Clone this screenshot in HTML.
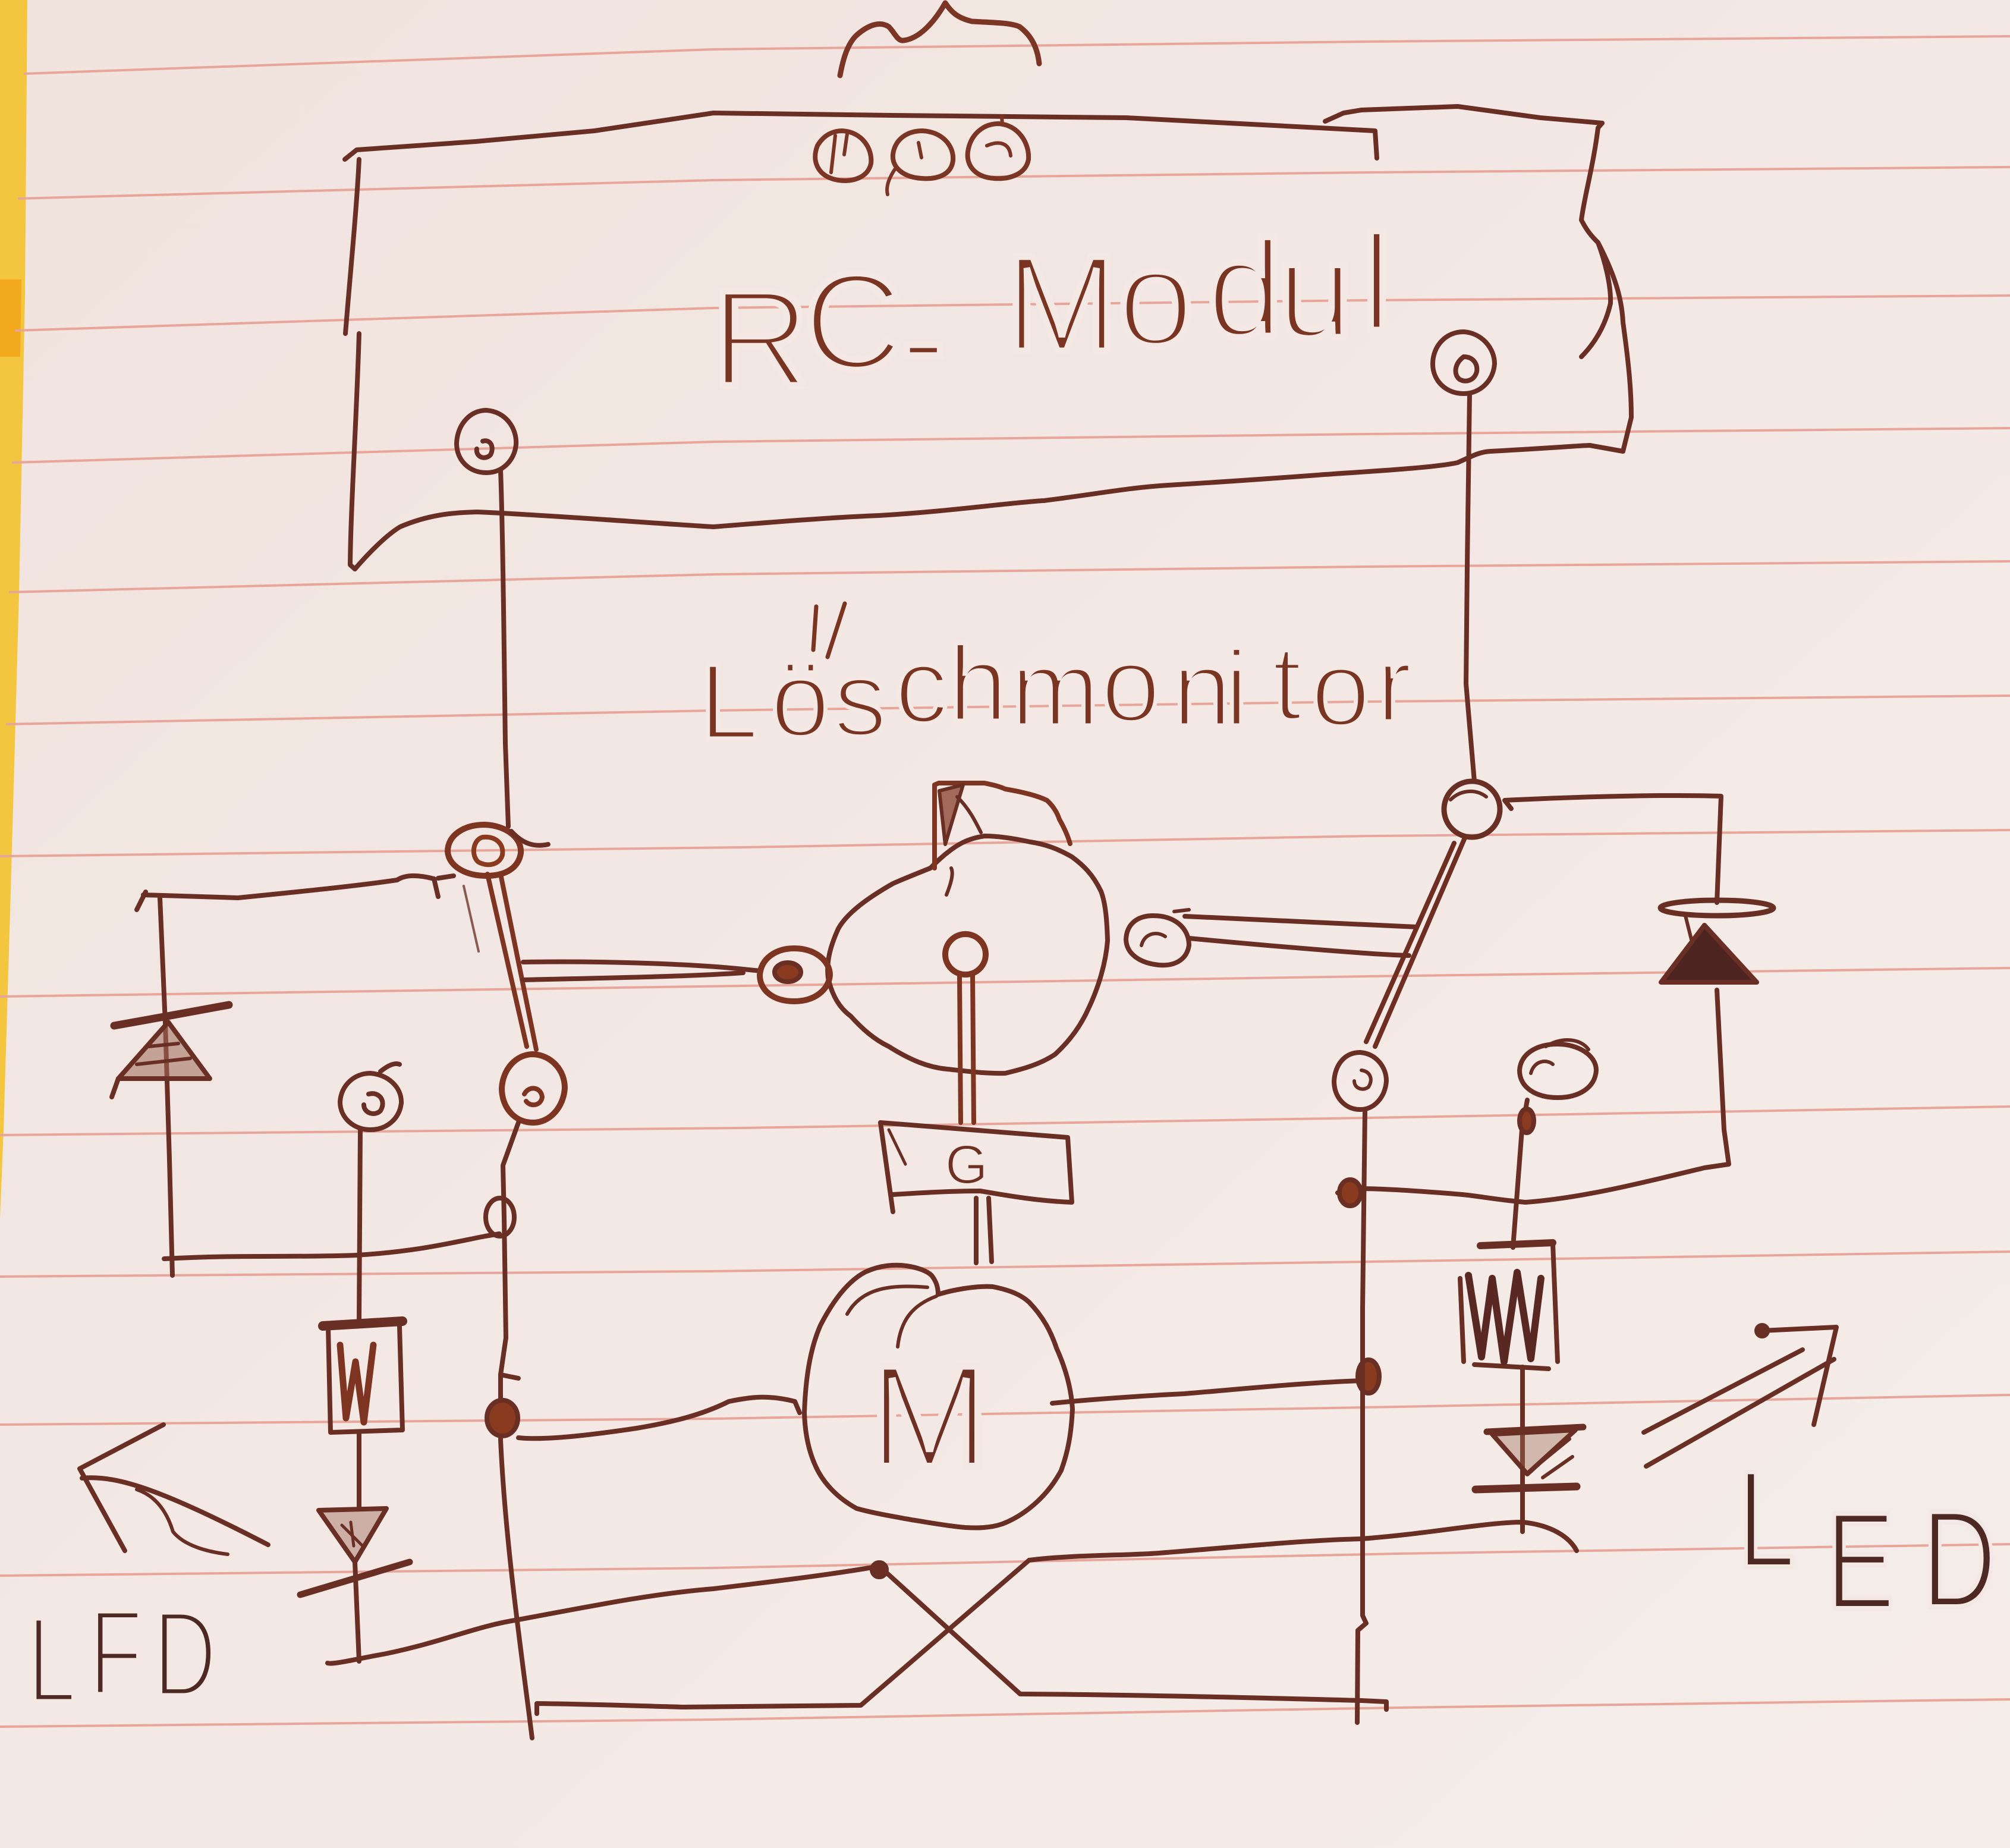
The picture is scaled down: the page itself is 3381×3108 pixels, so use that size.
<!DOCTYPE html>
<html>
<head>
<meta charset="utf-8">
<style>
html,body{margin:0;padding:0;background:#f3e8e4;}
svg{display:block;}
</style>
</head>
<body>
<svg xmlns="http://www.w3.org/2000/svg" width="3381" height="3108" viewBox="0 0 3381 3108">
<defs>
<linearGradient id="paper" x1="0" y1="0" x2="1" y2="1">
<stop offset="0" stop-color="#f1e3de"/>
<stop offset="0.5" stop-color="#f3e8e4"/>
<stop offset="1" stop-color="#f5ede9"/>
</linearGradient>
</defs>
<rect x="0" y="0" width="3381" height="3108" fill="url(#paper)"/>
<!-- yellow strip -->
<polygon points="0,0 46,0 42,500 32,1000 18,1500 6,1900 0,2050" fill="#f4c640"/>
<polygon points="0,470 36,470 34,600 0,600" fill="#f2a91e"/>

<!-- ruled lines -->
<g fill="none" stroke="#e8a69b" stroke-width="4">
<polyline points="40,124 1200,83 2300,70 3381,61"/>
<polyline points="30,334 1200,303 2300,290 3381,281"/>
<polyline points="25,556 1200,518 2300,505 3381,497"/>
<polyline points="20,778 1200,743 2300,730 3381,720"/>
<polyline points="15,996 1200,966 2300,953 3381,944"/>
<polyline points="10,1218 1200,1195 2300,1180 3381,1170"/>
<polyline points="0,1440 1250,1425 2300,1406 3381,1396"/>
<polyline points="0,1676 1250,1658 2300,1642 3381,1628"/>
<polyline points="0,1909 1250,1897 2300,1880 3381,1861"/>
<polyline points="0,2147 1200,2138 2300,2122 3381,2105"/>
<polyline points="0,2396 1200,2386 2350,2366 3381,2346"/>
<polyline points="0,2650 1200,2637 2350,2613 3381,2597"/>
<polyline points="0,2904 1200,2892 2350,2872 3381,2858"/>
</g>

<!-- pen drawing -->
<g fill="none" stroke="#6a2f24" stroke-width="8" stroke-linecap="round" stroke-linejoin="round">
<!-- squiggle at top -->
<path d="M1413,127 C1418,100 1425,75 1440,60 C1460,42 1480,35 1495,45 C1505,55 1510,70 1520,68 C1545,65 1570,40 1590,5 C1600,20 1610,30 1635,36 C1670,38 1700,38 1715,45 C1735,60 1745,80 1748,107" stroke="#7a3524" stroke-width="9"/>

<!-- RC module box -->
<path d="M580,268 L600,252 L800,238 L1000,220 L1200,190 L1500,194 L1895,198 L2200,214 L2313,220 L2316,266"/>
<path d="M2229,204 L2260,190 L2290,185 L2452,179 L2591,198 L2695,207"/>
<path d="M604,268 C600,350 590,450 581,561 M604,561 C600,700 590,850 589,950 L597,957"/>
<path d="M597,957 C620,930 650,900 673,886 C720,866 760,862 803,861 C900,865 1100,880 1200,886 C1300,878 1400,870 1478,867 C1600,860 1700,845 1756,842 C1850,830 1900,820 1965,816 C2100,808 2200,800 2243,797 C2350,790 2420,785 2452,778 C2480,765 2490,760 2507,759 C2600,754 2650,750 2674,749 L2730,759"/>
<path d="M2695,207 L2688,215 C2680,280 2665,330 2660,370 C2670,390 2680,400 2688,408 C2700,440 2710,480 2709,510 C2700,550 2680,580 2660,600 M2688,408 C2715,460 2728,500 2730,542 C2738,600 2744,650 2744,702 L2730,759"/>

<!-- three small circles -->
<path d="M1417,220 C1450,222 1468,250 1465,275 C1460,300 1430,308 1405,302 C1375,295 1365,270 1375,245 C1385,228 1400,220 1417,220 Z" stroke="#7a3524"/>
<path d="M1405,228 L1398,290 M1425,225 L1420,260" stroke="#7a3524" stroke-width="6"/>
<path d="M1552,220 C1585,222 1605,245 1603,270 C1600,295 1575,302 1550,300 C1520,298 1500,282 1502,260 C1505,235 1525,220 1552,220 Z" stroke="#7a3524"/>
<path d="M1505,285 C1495,300 1490,315 1493,327 M1545,240 L1550,265" stroke="#7a3524" stroke-width="6"/>
<path d="M1680,208 C1712,210 1732,240 1730,268 C1726,292 1700,302 1672,300 C1642,298 1625,280 1628,255 C1632,228 1652,208 1680,208 Z" stroke="#7a3524"/>
<path d="M1660,245 C1680,236 1698,240 1700,262 M1685,195 L1686,210" stroke="#7a3524" stroke-width="6"/>

<!-- RC terminals and wires -->
<path d="M818,690 C850,692 870,720 868,748 C865,775 845,795 818,795 C790,795 768,775 768,745 C770,712 792,690 818,690 Z"/>
<path d="M812,742 C825,738 832,752 825,765 C815,775 800,768 802,755"/>
<path d="M842,790 C846,900 848,1100 850,1250 L855,1390"/>
<path d="M2462,558 C2492,560 2514,585 2514,612 C2512,640 2490,662 2462,662 C2432,662 2410,640 2410,612 C2410,582 2432,558 2462,558 Z"/>
<path d="M2462,600 C2478,600 2486,612 2484,625 C2480,640 2466,644 2455,638 C2445,630 2446,612 2462,600"/>
<path d="M2472,663 C2470,800 2467,1000 2466,1150 L2480,1314"/>

<!-- umlaut strokes of Löschmonitor -->
<path d="M1373,1020 L1368,1093 M1421,1015 L1392,1105" stroke="#7a3422" stroke-width="7"/>

<!-- left top node and switch -->
<path d="M815,1387 C850,1388 878,1408 876,1435 C872,1460 850,1473 818,1473 C785,1473 755,1458 753,1432 C753,1405 780,1387 815,1387 Z" stroke="#7d3420" stroke-width="10"/>
<path d="M812,1408 C835,1406 848,1420 845,1438 C840,1455 820,1458 805,1450 C792,1440 795,1412 812,1408 Z" stroke="#8a3a1e"/>
<path d="M860,1398 C880,1420 900,1425 922,1420"/>
<path d="M400,1510 C500,1500 600,1490 668,1480 C680,1472 700,1470 730,1478 L737,1508 M737,1477 L763,1473"/>
<path d="M241,1505 L400,1510"/>
<path d="M230,1530 L245,1500"/>
<path d="M820,1470 L886,1760 M842,1470 L902,1765" stroke="#7d3420"/>
<path d="M780,1490 L805,1600" stroke="#8a5a50" stroke-width="4"/>
<!-- left rect -->
<path d="M269,1510 L278,1720 L285,1950 L290,2145"/>
<path d="M276,2117 C400,2110 500,2115 599,2111 C700,2105 760,2090 816,2079 L840,2075"/>
<!-- left diode -->
<path d="M192,1725 C250,1715 330,1700 385,1690" stroke-width="13"/>
<path d="M283,1719 L199,1814 L353,1814 Z" fill="#a06a58" fill-opacity="0.55"/>
<path d="M230,1790 L320,1780 M250,1760 L300,1755" stroke-width="6"/>
<path d="M199,1814 L188,1845"/>

<!-- double horizontal to center -->
<path d="M880,1618 C1000,1616 1150,1620 1250,1630 L1280,1633"/>
<path d="M880,1648 C1000,1645 1150,1643 1250,1636"/>

<!-- lower left switch contact -->
<path d="M897,1773 C928,1775 950,1800 950,1830 C948,1862 925,1888 897,1888 C865,1888 844,1862 844,1830 C846,1798 868,1773 897,1773 Z" stroke="#7d3420" stroke-width="10"/>
<path d="M882,1840 C890,1825 910,1828 912,1845 C910,1860 892,1862 885,1852" stroke="#7d3420"/>
<path d="M872,1888 L846,1960 L848,2047 L851,2250 L842,2312 L842,2421 C850,2600 880,2800 895,2923"/>
<path d="M842,2312 L872,2318"/>
<ellipse cx="841" cy="2047" rx="24" ry="32"/>
<ellipse cx="845" cy="2385" rx="26" ry="30" fill="#8a3a1e"/>

<!-- left LED branch -->
<path d="M623,1805 C652,1807 676,1828 675,1855 C672,1882 650,1900 623,1900 C595,1900 572,1880 572,1853 C574,1825 596,1805 623,1805 Z"/>
<path d="M620,1840 C638,1835 650,1852 640,1868 C630,1878 612,1872 612,1858"/>
<path d="M640,1802 C655,1790 665,1787 672,1790"/>
<path d="M606,1900 L604,2222 M604,2409 L604,2537 M597,2627 L604,2794"/>
<path d="M543,2230 L677,2222" stroke-width="16"/>
<path d="M552,2232 L556,2409 L677,2405 L672,2230"/>
<path d="M572,2262 L582,2385 L598,2290 L612,2392 L628,2262" stroke-width="11" stroke="#7d3420"/>
<path d="M536,2540 L650,2537 L597,2627 Z" fill="#a06a58" fill-opacity="0.45"/>
<path d="M505,2682 L689,2627" stroke-width="11"/>
<path d="M575,2565 L610,2600 M590,2560 L595,2600" stroke-width="5"/>

<!-- left LED arrows -->
<path d="M275,2396 L134,2470 L210,2608"/>
<path d="M138,2486 C200,2480 280,2510 451,2598"/>
<path d="M230,2505 C260,2515 280,2540 291,2576 C310,2600 350,2610 383,2614" stroke-width="6"/>

<!-- bottom cross lines -->
<path d="M551,2797 C560,2800 600,2790 650,2781 C750,2760 800,2735 872,2724 C1000,2700 1100,2680 1200,2672 C1300,2660 1400,2648 1479,2634 L1716,2849 C1900,2850 2100,2855 2290,2860 L2332,2862 L2332,2875"/>
<circle cx="1479" cy="2640" r="12" fill="#6a2f24"/>
<path d="M903,2882 L903,2865 C1000,2866 1100,2870 1150,2871 C1300,2870 1400,2868 1448,2868 L1731,2624 C1800,2615 1900,2616 1950,2612 C2100,2600 2200,2590 2290,2588 C2400,2580 2500,2560 2561,2560 C2610,2565 2640,2585 2652,2608"/>

<!-- central rotary switch -->
<path d="M1565,1460 C1540,1470 1520,1478 1502,1486 C1460,1510 1425,1535 1410,1562 C1395,1595 1390,1620 1393,1645 C1400,1675 1412,1695 1431,1709 C1450,1730 1470,1748 1495,1760 C1530,1782 1560,1795 1593,1798 C1630,1802 1660,1806 1691,1805 C1720,1798 1750,1790 1775,1773 C1800,1750 1818,1725 1831,1696 C1848,1660 1860,1620 1863,1582 C1862,1550 1860,1520 1852,1499 C1838,1470 1822,1455 1803,1441 C1780,1428 1760,1420 1733,1416 C1705,1410 1680,1406 1656,1406 C1630,1410 1615,1418 1600,1429 C1585,1440 1575,1450 1565,1460 Z"/>
<path d="M1572,1460 L1572,1320 L1579,1317 L1656,1317 C1670,1320 1680,1322 1691,1327 C1720,1332 1745,1338 1761,1346 C1772,1356 1778,1366 1782,1378 C1790,1392 1796,1405 1800,1419" stroke="#7d3420"/>
<path d="M1580,1330 L1620,1320 L1590,1420 Z" fill="#7d3420" fill-opacity="0.7" stroke-width="6"/>
<path d="M1600,1460 C1605,1470 1598,1490 1592,1505 M1610,1340 C1630,1360 1640,1380 1650,1400" stroke-width="6"/>
<!-- left terminal -->
<path d="M1336,1595 C1370,1595 1396,1615 1396,1640 C1394,1665 1370,1684 1336,1684 C1300,1684 1278,1665 1278,1640 C1280,1612 1305,1595 1336,1595 Z" stroke="#7d3420" stroke-width="10"/>
<ellipse cx="1325" cy="1635" rx="22" ry="16" fill="#8a3a1e"/>
<!-- center terminal -->
<circle cx="1624" cy="1605" r="34" stroke="#7d3420" stroke-width="10"/>
<path d="M1614,1640 L1616,1888 M1636,1640 L1638,1888" stroke="#7d3420"/>
<!-- right terminal -->
<path d="M1940,1540 C1975,1540 2000,1560 2000,1590 C1996,1615 1975,1625 1950,1623 C1918,1620 1895,1605 1894,1580 C1895,1555 1912,1540 1940,1540 Z"/>
<path d="M1920,1590 C1925,1570 1945,1565 1960,1575" stroke-width="6"/>
<path d="M1993,1541 C2150,1548 2300,1555 2383,1559"/>
<path d="M2000,1578 C2150,1592 2300,1605 2370,1607"/>
<path d="M1975,1533 L2000,1530" stroke-width="6"/>

<!-- gearbox -->
<path d="M1481,1888 L1796,1913 L1803,2022 C1750,2020 1700,2012 1649,2003 C1600,2003 1550,2006 1502,2009"/>
<path d="M1481,1888 L1502,2038"/>
<path d="M1495,1900 L1523,1958" stroke-width="5"/>
<path d="M1642,2015 L1642,2124 M1663,2015 L1668,2122"/>

<!-- motor -->
<path d="M1353,2376 C1355,2320 1362,2270 1380,2229 C1400,2190 1425,2155 1456,2139 C1480,2128 1505,2126 1525,2129 C1545,2132 1560,2138 1567,2145 C1575,2155 1578,2165 1578,2177 C1600,2170 1640,2162 1670,2164 C1700,2170 1718,2178 1731,2190 C1755,2215 1768,2240 1777,2267 C1792,2300 1802,2335 1804,2370 C1802,2410 1797,2440 1785,2473 C1760,2520 1720,2550 1686,2563 C1665,2570 1645,2570 1624,2569 C1590,2566 1560,2560 1533,2556 C1500,2550 1470,2545 1441,2537 C1410,2520 1385,2495 1372,2466 C1360,2440 1354,2410 1353,2376 Z"/>
<path d="M1425,2210 C1450,2165 1500,2160 1560,2165 M1510,2265 C1515,2220 1535,2195 1575,2180" stroke-width="6"/>
<path d="M872,2418 C900,2421 950,2420 1071,2402 C1130,2392 1180,2380 1226,2357 C1260,2350 1290,2345 1337,2357 L1345,2376"/>
<path d="M1770,2360 C1850,2352 1950,2346 1992,2344 C2100,2335 2200,2325 2290,2322"/>
<ellipse cx="2302" cy="2315" rx="18" ry="28" fill="#8a3a1e"/>

<!-- right side: top node and switch -->
<circle cx="2476" cy="1361" r="47" stroke-width="9"/>
<path d="M2440,1345 C2455,1330 2480,1325 2500,1340" stroke-width="6"/>
<path d="M2531,1346 L2542,1360 M2531,1346 C2650,1340 2800,1336 2895,1339 L2888,1518"/>
<path d="M2888,1665 L2900,1900 L2908,1958 C2880,1962 2867,1964 2867,1964 C2760,1990 2660,2015 2566,2022 C2520,2018 2490,2012 2460,2009 C2400,2004 2330,1999 2285,1999 L2250,2006"/>
<ellipse cx="2888" cy="1527" rx="95" ry="13" stroke-width="9"/>
<path d="M2867,1556 L2794,1652 L2955,1652 Z" fill="#4e2420"/>
<path d="M2835,1540 L2845,1580" stroke-width="6"/>
<path d="M2464,1409 L2313,1760 M2446,1418 L2298,1752" stroke="#6e2e22"/>
<path d="M2288,1770 C2315,1772 2332,1795 2332,1818 C2330,1845 2312,1866 2288,1866 C2262,1866 2244,1845 2244,1818 C2246,1790 2262,1770 2288,1770 Z"/>
<path d="M2290,1800 C2305,1802 2310,1815 2302,1828 C2292,1836 2278,1830 2278,1818" stroke-width="6"/>
<path d="M2296,1869 L2292,2200 L2292,2717 L2298,2730 L2284,2742 L2283,2897"/>
<ellipse cx="2271" cy="2006" rx="18" ry="22" fill="#8a3a1e"/>
<!-- right LED branch -->
<path d="M2620,1756 C2655,1756 2685,1775 2685,1800 C2683,1830 2655,1846 2620,1846 C2585,1846 2556,1830 2556,1800 C2558,1772 2585,1756 2620,1756 Z"/>
<path d="M2575,1805 C2580,1785 2600,1780 2612,1790" stroke-width="6"/>
<path d="M2600,1760 C2630,1742 2660,1748 2672,1765" stroke-width="6"/>
<path d="M2569,1850 L2560,1900 L2545,2098"/>
<ellipse cx="2568" cy="1885" rx="12" ry="20" fill="#8a3a1e"/>
<path d="M2490,2095 L2612,2090" stroke-width="12"/>
<path d="M2456,2150 L2462,2290 M2612,2092 L2620,2290 M2480,2295 L2605,2302"/>
<path d="M2470,2145 L2492,2282 L2510,2150 L2530,2290 L2552,2140 L2575,2285 L2592,2150" stroke-width="12" stroke="#5a2822"/>
<path d="M2561,2299 L2561,2576"/>
<path d="M2501,2408 L2663,2400" stroke-width="11"/>
<path d="M2510,2412 L2650,2405 L2569,2479 Z" fill="#a06a58" fill-opacity="0.4"/>
<path d="M2482,2505 L2652,2500" stroke-width="13"/>
<path d="M2585,2465 L2640,2420 M2595,2485 L2645,2450" stroke-width="6"/>
<!-- right arrows -->
<path d="M2765,2409 L3032,2270"/>
<path d="M2769,2466 L3085,2286"/>
<path d="M2964,2238 L3089,2232 L3051,2396"/>
<circle cx="2964" cy="2238" r="9" fill="#6a2f24"/>
</g>

<!-- labels -->
<g font-family="'Liberation Sans', sans-serif" fill="#6e3022" stroke="#f3e8e4" paint-order="normal">
<text x="1196 1352 1515 1690 1880 2030 2148 2290" y="648 620 650 590 580 565 567 555" font-size="230" stroke-width="11" fill="#7a3422">RC-Modul</text>
<text x="1176 1296 1402 1505 1595 1700 1852 1972 2060 2140 2205 2315" y="1242 1238 1237 1215 1212 1220 1213 1220 1220 1210 1220 1213" font-size="180" stroke-width="7" fill="#7a3422">Löschmonitor</text>
<text x="1461" y="2466" font-size="245" stroke-width="12">M</text>
<text x="1590" y="1990" font-size="92" stroke-width="2">G</text>
<text transform="scale(0.72,1)" x="64 208 358" y="2862 2850 2852" font-size="205" stroke-width="9" fill="#4e2822">LFD</text>
<text transform="scale(0.75,1)" x="3897 4095 4310" y="2635 2705 2702" font-size="232" stroke-width="8" fill="#4e2822">LED</text>
</g>
</svg>
</body>
</html>
